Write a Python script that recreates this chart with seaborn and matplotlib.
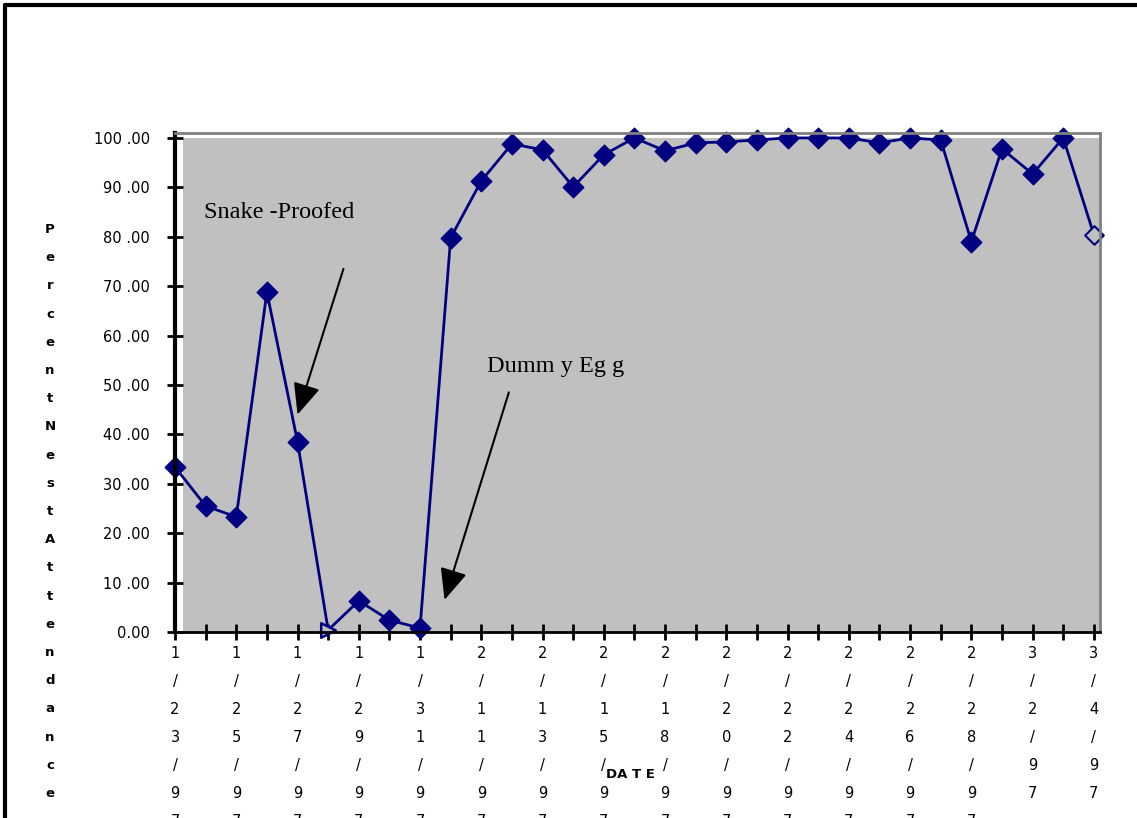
import matplotlib
matplotlib.use("Agg")
import matplotlib.pyplot as plt
from matplotlib.patches import Rectangle
from matplotlib.lines import Line2D
import numpy as np
import pandas as pd
import seaborn as sns

# Nest attendance per observation day (percent)
attendance = [33.4, 25.5, 23.3, 68.8, 38.5, 0.4, 6.3, 2.4, 0.8, 79.8,
              91.3, 98.8, 97.6, 90.1, 96.6, 100.0, 97.4, 99.0, 99.2, 99.6,
              100.0, 100.0, 100.0, 99.0, 100.0, 99.6, 79.0, 97.8, 92.7, 100.0,
              80.4]
# observation days drawn with open markers
open_days = [5, 30]
# dates written under every second observation day
date_labels = ["1/23/97", "1/25/97", "1/27/97", "1/29/97", "1/31/97",
               "2/11/97", "2/13/97", "2/15/97", "2/18/97", "2/20/97",
               "2/22/97", "2/24/97", "2/26/97", "2/28/97", "3/2/97", "3/4/97"]
y_ticks = [0, 10, 20, 30, 40, 50, 60, 70, 80, 90, 100]

NAVY = "#000080"
GREY = "#C0C0C0"

sns.set_theme(style="white")
plt.rcParams["font.family"] = ["DejaVu Sans"]
plt.rcParams["text.color"] = "black"
plt.rcParams["xtick.color"] = "black"
plt.rcParams["ytick.color"] = "black"

W, H = 1137, 818
fig = plt.figure(figsize=(W / 100, H / 100), dpi=100)
fig.patch.set_facecolor("white")

ax = fig.add_axes([175 / W, 1 - 632 / H, 925 / W, 499 / H])
ax.set_facecolor("white")

n = len(attendance)
day = np.arange(n)
df = pd.DataFrame({"day": day, "pct": attendance})
df["open"] = df["day"].isin(open_days)

ax.set_xlim(0, 30.2)
ax.set_ylim(0, 101)

# grey plot area
ax.add_patch(Rectangle((0.26, 0), 30.2, 100, facecolor=GREY, edgecolor="none", zorder=0))

sns.lineplot(data=df, x="day", y="pct", ax=ax, color=NAVY, lw=2.0, zorder=3,
             legend=False, clip_on=False)
sns.scatterplot(data=df[~df["open"]], x="day", y="pct", ax=ax, marker="D", s=110,
                color=NAVY, edgecolor=NAVY, linewidth=1, zorder=4, legend=False,
                clip_on=False)
sns.scatterplot(data=df[df["open"] & (df["day"] == open_days[0])], x="day", y="pct", ax=ax,
                marker=">", s=110, facecolor=GREY, edgecolor=NAVY, linewidth=1.8,
                zorder=4, legend=False, clip_on=False)
sns.scatterplot(data=df[df["open"] & (df["day"] == open_days[1])], x="day", y="pct", ax=ax,
                marker="D", s=90, facecolor=GREY, edgecolor=NAVY, linewidth=1.5,
                zorder=4, legend=False, clip_on=False)

# spines
for side in ("top", "right"):
    ax.spines[side].set_color("#808080")
    ax.spines[side].set_linewidth(2)
ax.spines["left"].set_color("black")
ax.spines["left"].set_linewidth(3)
ax.spines["bottom"].set_color("black")
ax.spines["bottom"].set_linewidth(2)
for s in ax.spines.values():
    s.set_zorder(5)

# y axis
ax.set_yticks(y_ticks)
ax.set_yticklabels(["0.00" if v == 0 else f"{v} .00" for v in y_ticks], fontsize=10.5)
ax.tick_params(axis="y", direction="inout", length=12, width=2, color="black", pad=12,
               left=True, labelcolor="black")

# x axis: a tick per day, stacked date text every second day
ax.set_xticks(day)
labels = [""] * n
for i, lab in enumerate(date_labels):
    labels[2 * i] = "\n".join(lab)
ax.set_xticklabels(labels, fontsize=10.5, linespacing=2.09, va="top")
ax.tick_params(axis="x", direction="inout", length=12, width=2, color="black", pad=4,
               bottom=True, labelcolor="black")
ax.set_xlabel("")
ax.set_ylabel("")

# axis titles
fig.text(50 / W, 1 - 223 / H, "\n".join("PercentNestAttendance"), fontsize=9.5,
         fontweight="bold", ha="center", va="top", linespacing=2.52)
fig.text(630 / W, 1 - 775 / H, "DA T E", fontsize=9.5, fontweight="bold",
         ha="center", va="center")

# annotations
serif = ["Liberation Serif", "DejaVu Serif"]
arrow = dict(arrowstyle="-|>,head_length=1.6,head_width=0.7", color="black", lw=1.5,
             shrinkA=0, shrinkB=0)
ax.annotate("", xy=(4.0, 44), xytext=(5.5, 73.5), arrowprops=arrow, zorder=6)
ax.text(0.95, 85, "Snake -Proofed", fontsize=17.5, family=serif, ha="left",
        va="center", color="black", zorder=6)
ax.annotate("", xy=(8.8, 6.5), xytext=(10.9, 48.5), arrowprops=arrow, zorder=6)
ax.text(10.2, 53.7, "Dumm y Eg g", fontsize=17.5, family=serif, ha="left",
        va="center", color="black", zorder=6)

# outer chart frame
fig.add_artist(Line2D([5 / W, 1.0], [1 - 5 / H, 1 - 5 / H], color="black", lw=3,
                      transform=fig.transFigure))
fig.add_artist(Line2D([5 / W, 5 / W], [0, 1 - 5 / H], color="black", lw=3,
                      transform=fig.transFigure))

fig.savefig("out.png", dpi=100)
